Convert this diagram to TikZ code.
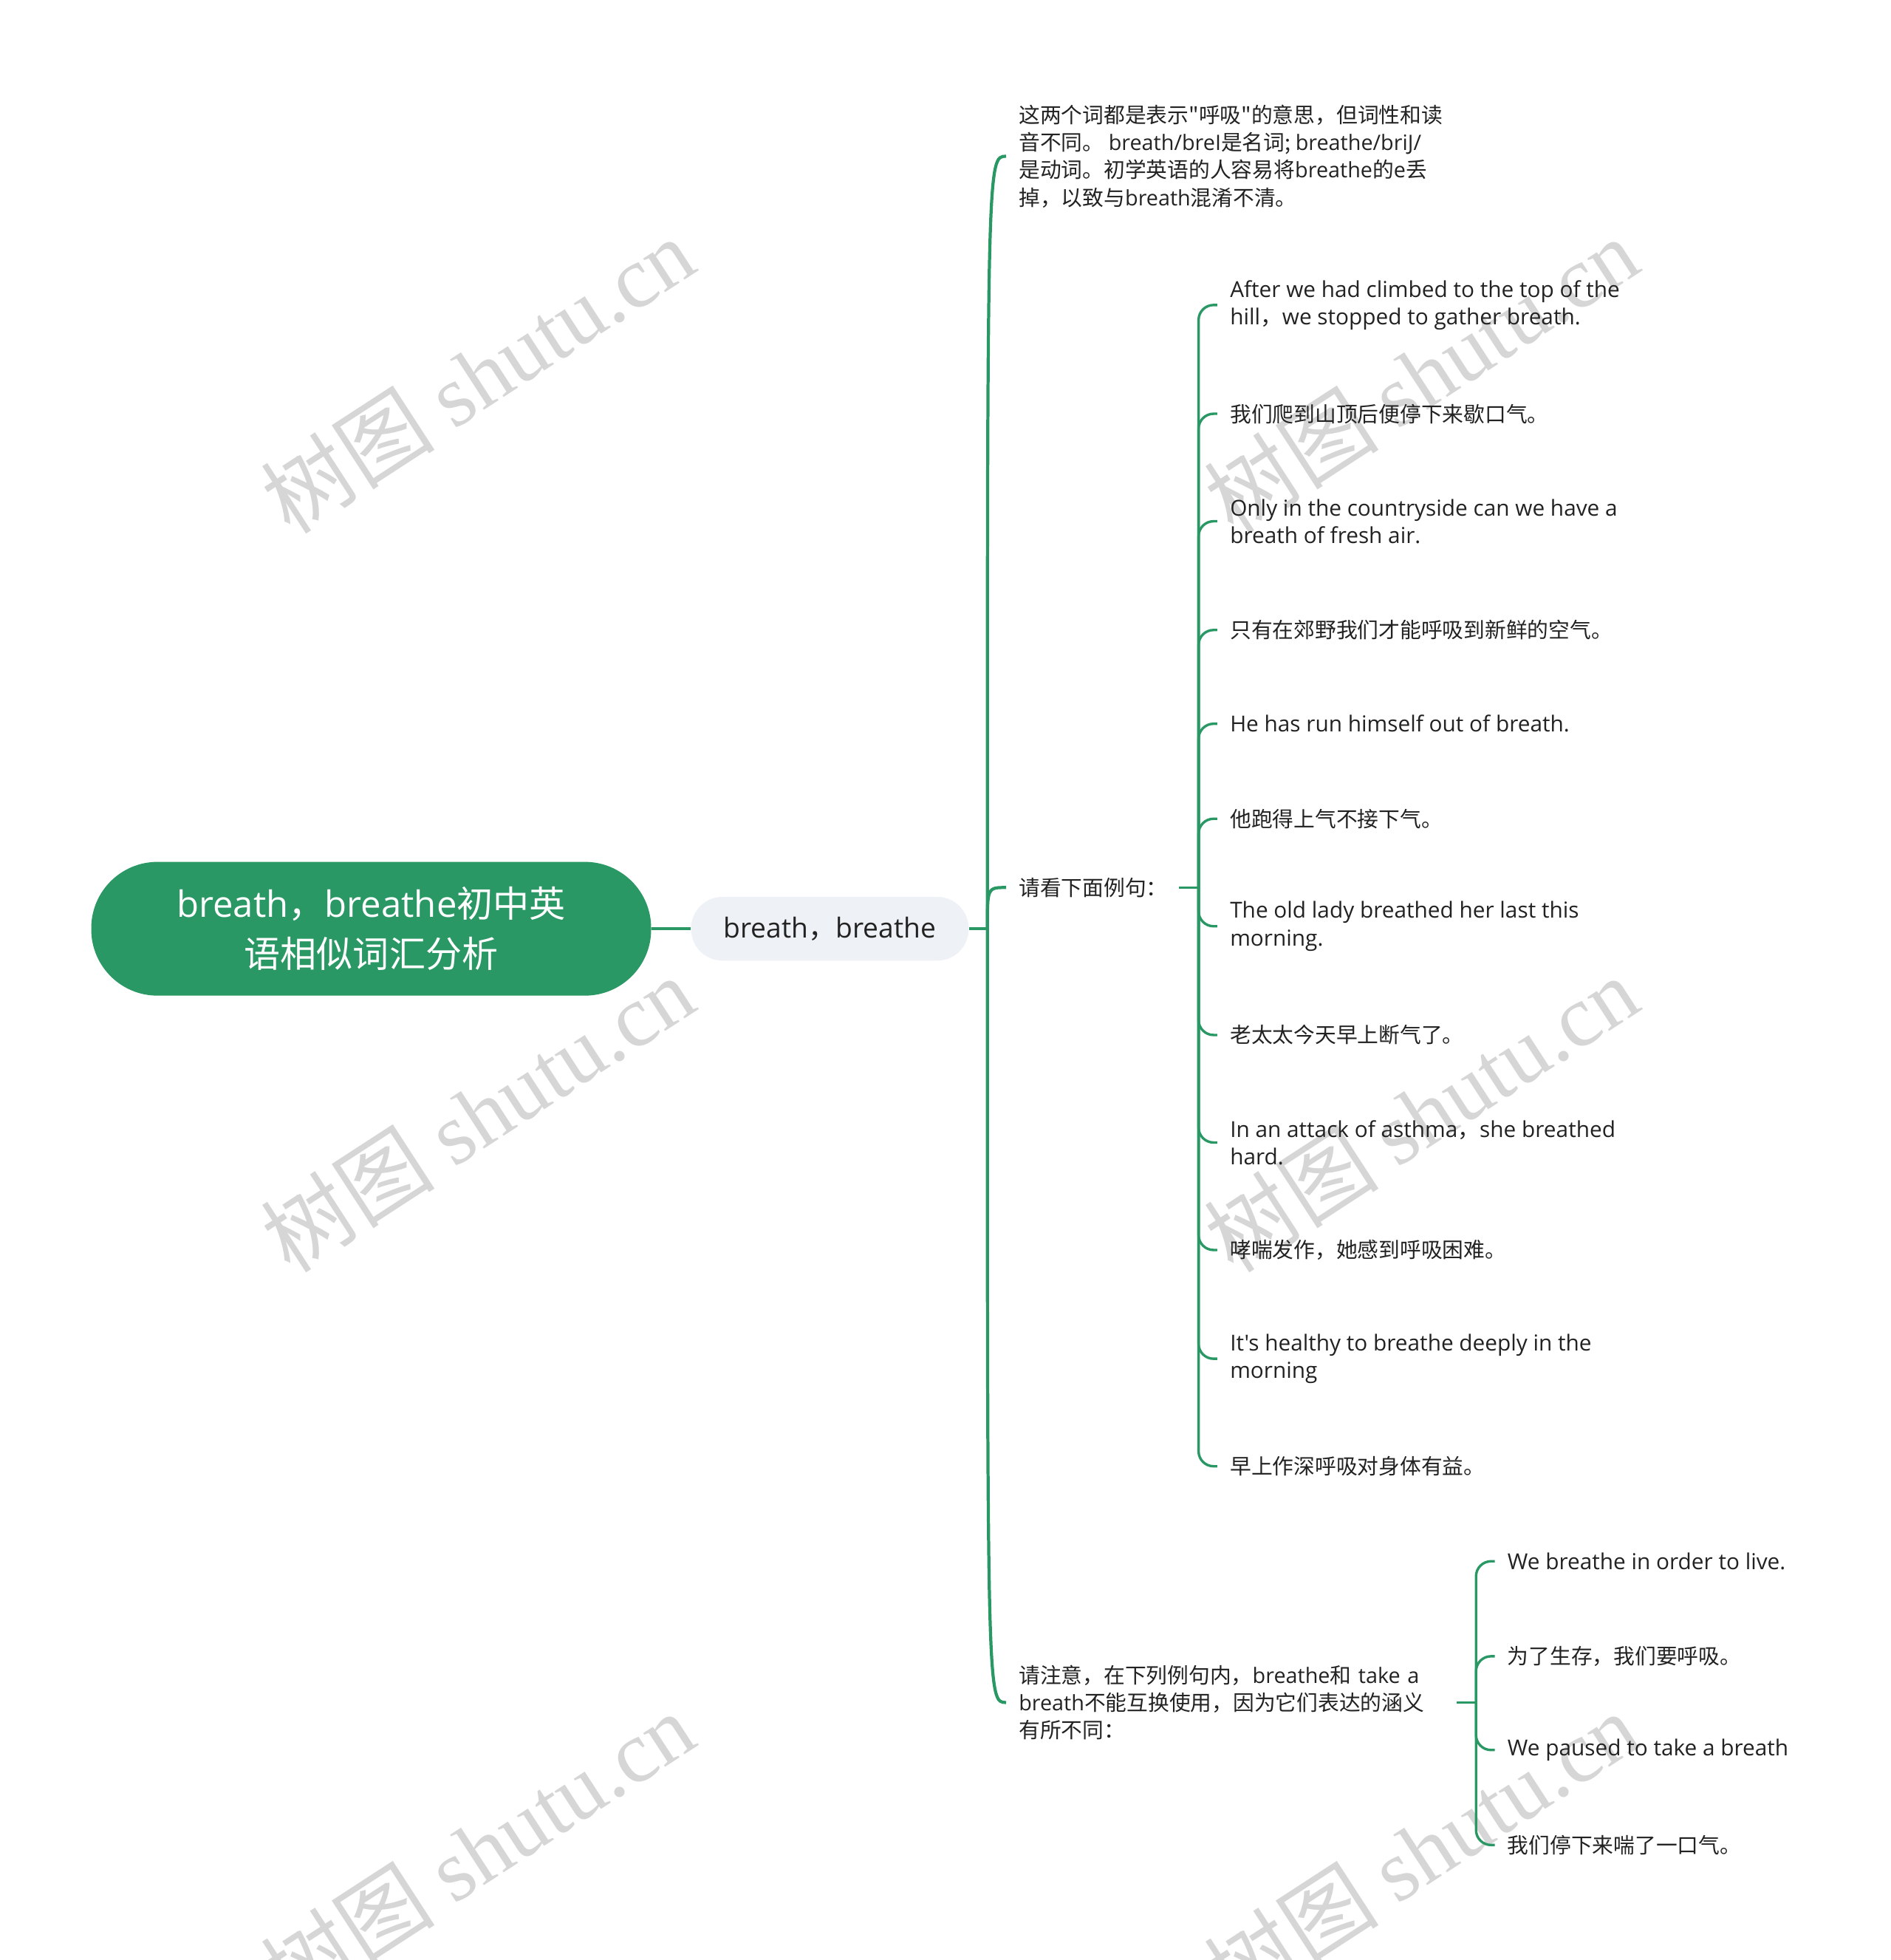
\documentclass[tikz,border=0pt]{standalone}
\usepackage{fontspec}
\setmainfont{Noto Sans CJK SC}
\newfontfamily\enfont{Open Sans}
\newfontfamily\zhfont{Noto Sans CJK SC}
\newfontfamily\wmfont{Liberation Serif}
\usetikzlibrary{positioning}
\definecolor{mapgreen}{HTML}{2A9864}
\definecolor{topicgray}{HTML}{EEF1F5}
\definecolor{inkgray}{HTML}{222222}
\definecolor{markgray}{HTML}{D6D6D6}

\begin{document}
\begin{tikzpicture}[x=1pt, y=-1pt,
    rootbox/.style={fill=mapgreen, rounded corners=53pt,
                    minimum width=448pt, minimum height=107pt,
                    align=center, text=white, font=\fontsize{29}{40}\selectfont},
    topicbox/.style={fill=topicgray, rounded corners=25pt,
                     minimum width=222pt, minimum height=51pt,
                     text=inkgray, font=\fontsize{22}{28}\selectfont},
    leaf/.style={anchor=west, inner xsep=10pt, inner ysep=0pt, align=left,
                 text=inkgray, font=\fontsize{17}{22}\selectfont},
    enleaf/.style={leaf, font=\enfont\fontsize{17.6}{22}\selectfont},
    branch/.style={draw=mapgreen, line width=2.5pt},
    twig/.style={draw=mapgreen, line width=2pt, rounded corners=12pt},
    wmark/.style={text=markgray, rotate=33, font=\fontsize{70}{70}\selectfont},
  ]
  \useasboundingbox (0,0) rectangle (1513,1568);
  \clip (0,0) rectangle (1513,1568);

  \foreach \wx in {382,1137}
    \foreach \wy in {300,891,1480}
      \node[wmark] at (\wx,\wy) {{\zhfont 树图} {\wmfont shutu.cn}};

  \node[rootbox] (root) at (297,743)
        {{\enfont breath}，{\enfont breathe}初中英\\语相似词汇分析};
  \node[topicbox] (topic) at (664,743) {{\enfont breath}，{\enfont breathe}};

  \node[leaf] (desc) at (805,125)
        {这两个词都是表示{\zhfont "}呼吸{\zhfont "}的意思，但词性和读\\
         音不同。 {\enfont breath/breI}是名词; {\enfont breathe/briJ/}\\
         是动词。初学英语的人容易将{\enfont breathe}的{\enfont e}丢\\
         掉，以致与{\enfont breath}混淆不清。};
  \node[leaf, text width=118pt] (hint) at (805,710) {请看下面例句：};
  \node[leaf, text width=340pt] (note) at (805,1362)
        {请注意，在下列例句内，{\enfont breathe}和 {\enfont take a}\\
         {\enfont breath}不能互换使用，因为它们表达的涵义\\
         有所不同：};

  \node[enleaf] (ex1) at (974,244)
        {After we had climbed to the top of the\\hill{\zhfont ，}we stopped to gather breath.};
  \node[leaf] (ex2) at (974,331) {我们爬到山顶后便停下来歇口气。};
  \node[enleaf] (ex3) at (974,417)
        {Only in the countryside can we have a\\breath of fresh air.};
  \node[leaf] (ex4) at (974,504) {只有在郊野我们才能呼吸到新鲜的空气。};
  \node[enleaf] (ex5) at (974,579) {He has run himself out of breath.};
  \node[leaf] (ex6) at (974,655) {他跑得上气不接下气。};
  \node[enleaf] (ex7) at (974,741)
        {The old lady breathed her last this\\morning.};
  \node[leaf] (ex8) at (974,828) {老太太今天早上断气了。};
  \node[enleaf] (ex9) at (974,914)
        {In an attack of asthma{\zhfont ，}she breathed\\hard.};
  \node[leaf] (ex10) at (974,1000) {哮喘发作，她感到呼吸困难。};
  \node[enleaf] (ex11) at (974,1087)
        {It's healthy to breathe deeply in the\\morning};
  \node[leaf] (ex12) at (974,1173) {早上作深呼吸对身体有益。};

  \node[enleaf] (nt1) at (1196,1249) {We breathe in order to live.};
  \node[leaf] (nt2) at (1196,1325) {为了生存，我们要呼吸。};
  \node[enleaf] (nt3) at (1196,1400) {We paused to take a breath};
  \node[leaf] (nt4) at (1196,1476) {我们停下来喘了一口气。};

  \coordinate (j1) at (790,743);
  \coordinate (j2) at (959,710);
  \coordinate (j3) at (1181,1362);

  \draw[branch] (root.east) -- (topic.west);
  \draw[branch] (topic.east) -- (j1);
  \foreach \c in {desc,hint,note}
    \draw[branch] (j1) .. controls (j1 |- \c.west) .. (\c.west);

  \draw[twig] (hint.east) -- (j2);
  \foreach \k in {1,...,12}
    \draw[twig] (j2) |- (ex\k.west);

  \draw[twig] (note.east) -- (j3);
  \foreach \k in {1,...,4}
    \draw[twig] (j3) |- (nt\k.west);
\end{tikzpicture}
\end{document}
